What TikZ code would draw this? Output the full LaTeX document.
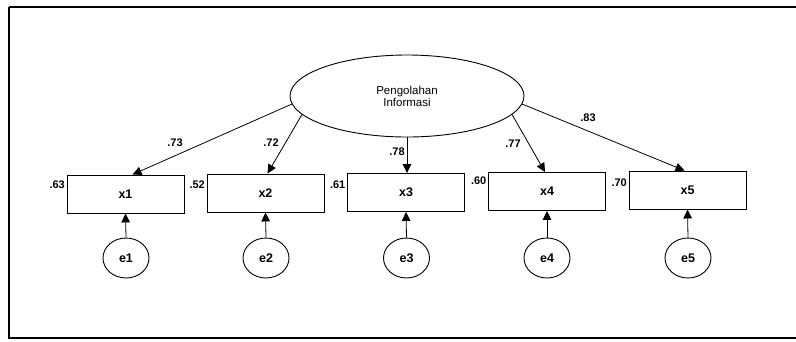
\documentclass[tikz,border=0pt]{standalone}
\usepackage{fontspec}
\setmainfont{Liberation Sans}
\usetikzlibrary{shapes.geometric,arrows.meta,calc}

\tikzset{
  obs/.style={draw, line width=0.9pt, minimum width=117pt, minimum height=38pt,
              inner sep=0pt, font=\fontsize{12.5}{13}\selectfont\bfseries},
  err/.style={draw, ellipse, line width=0.9pt, minimum width=46pt, minimum height=40pt,
              inner sep=0pt, font=\fontsize{12.5}{13}\selectfont\bfseries},
  lat/.style={draw, ellipse, line width=0.9pt, minimum width=234pt, minimum height=82pt,
              inner sep=0pt, align=center, font=\fontsize{11.5}{12}\selectfont},
  load/.style={line width=0.8pt, -{Triangle[length=9pt,width=8.5pt]}},
  coef/.style={inner sep=0pt, font=\fontsize{11}{12}\selectfont\bfseries},
  frameline/.style={line width=1.6pt}
}

\begin{document}
\begin{tikzpicture}[x=1pt, y=-1pt]
  \useasboundingbox (0,0) rectangle (796,341);

  % outer frame (open on the right)
  \draw[frameline, line width=2.2pt] (9,7) -- (796,7);
  \draw[frameline] (9,7) -- (9,338) -- (796,338);

  % latent factor
  \node[lat] (F) at (407,96) {Pengolahan\\Informasi};

  % indicators
  \node[obs] (x1) at (125.5,194) {x1};
  \node[obs] (x2) at (265.5,193) {x2};
  \node[obs] (x3) at (406,192.5) {x3};
  \node[obs] (x4) at (547,191.5) {x4};
  \node[obs] (x5) at (687.5,190) {x5};

  % error terms
  \foreach \i/\xx in {1/126,2/266,3/406.5,4/547,5/688}
    \node[err] (e\i) at (\xx,258) {e\i};

  % factor loadings
  \draw[load] (F.184) -- ($(x1.north)+(7,0)$);
  \draw[load] (F.190) -- ($(x2.north)+(2,0)$);
  \draw[load] (F.270) -- ($(x3.north)+(1,0)$);
  \draw[load] (F.350) -- ($(x4.north)+(-2,0)$);
  \draw[load] (F.356) -- ($(x5.north)+(-3,0)$);

  % error paths
  \foreach \i in {1,...,5}
    \draw[load] (e\i.north) -- (x\i.south);

  % loading coefficients
  \node[coef] (c1) at (175,143) {.73};
  \node[coef] (c2) at (271,143) {.72};
  \node[coef] (c3) at (397,152) {.78};
  \node[coef] (c4) at (513,144) {.77};
  \node[coef] (c5) at (588,118) {.83};

  % squared multiple correlations
  \node[coef, anchor=east] (r1) at ($(x1.north west)+(-1.5,10)$) {.63};
  \node[coef, anchor=east] (r2) at ($(x2.north west)+(-1.5,11)$) {.52};
  \node[coef, anchor=east] (r3) at ($(x3.north west)+(-1.5,12)$) {.61};
  \node[coef, anchor=east] (r4) at ($(x4.north west)+(-1.5,8.5)$) {.60};
  \node[coef, anchor=east] (r5) at ($(x5.north west)+(-1.5,12)$) {.70};
\end{tikzpicture}
\end{document}
